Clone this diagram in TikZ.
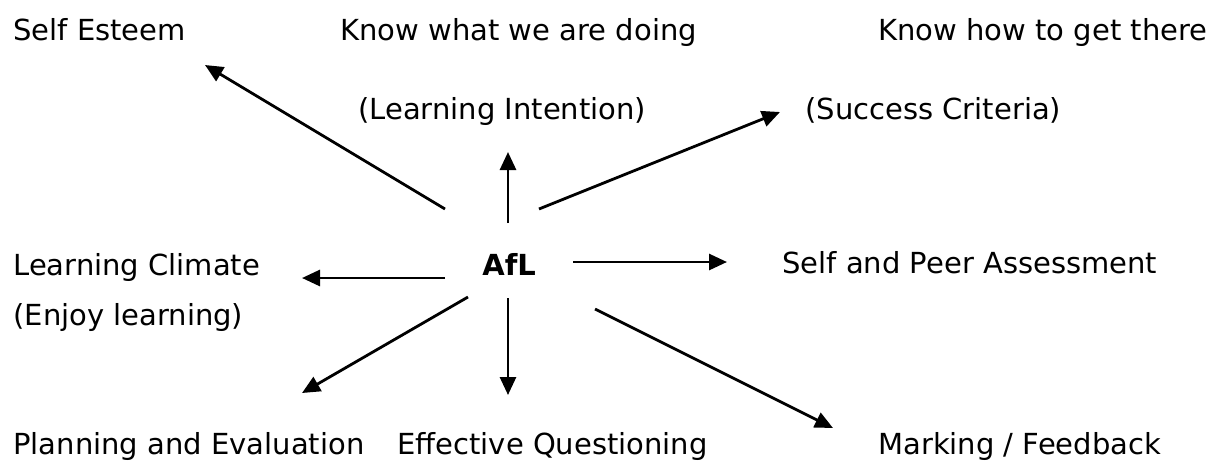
\documentclass[tikz,border=0pt]{standalone}
\usepackage{fontspec}
\setmainfont{DejaVu Sans}
\usetikzlibrary{arrows.meta, positioning}

\begin{document}
\begin{tikzpicture}[
    x=0.5pt, y=-0.5pt,
    font=\fontsize{14.5pt}{17pt}\selectfont,
    item/.style={anchor=base west, inner sep=0pt},
    hub/.style={item, font=\fontsize{14.5pt}{17pt}\selectfont\bfseries},
    arrow/.style={-{Triangle[length=9pt, width=8pt]}, line width=1.4pt, black}
]
    \useasboundingbox (0,0) rectangle (1222,463);

    % Centre
    \node[hub] (afl) at (482,275) {AfL};

    % Labels
    \node[item] (esteem) at (13,40) {Self Esteem};
    \node[item] (knowwhat) at (340,40) {Know what we are doing};
    \node[item] (knowhow) at (878,40) {Know how to get there};
    \node[item] (intention) at (358,119) {(Learning Intention)};
    \node[item] (criteria) at (805,119) {(Success Criteria)};
    \node[item] (climate) at (13,275) {Learning Climate};
    \node[item] (enjoy) at (13,325) {(Enjoy learning)};
    \node[item] (peer) at (782,273) {Self and Peer Assessment};
    \node[item] (planning) at (13,454) {Planning and Evaluation};
    \node[item] (questioning) at (397,454) {Effective Questioning};
    \node[item] (marking) at (878,454) {Marking / Feedback};

    % Arrow ends
    \coordinate (s1) at (445,209); \coordinate (t1) at (205,65);
    \coordinate (s2) at (508,223); \coordinate (t2) at (508,152);
    \coordinate (s3) at (539,209); \coordinate (t3) at (780,112);
    \coordinate (s4) at (445,278); \coordinate (t4) at (302,278);
    \coordinate (s5) at (573,262); \coordinate (t5) at (727,262);
    \coordinate (s6) at (468,297); \coordinate (t6) at (302,393);
    \coordinate (s7) at (508,298); \coordinate (t7) at (508,395);
    \coordinate (s8) at (595,309); \coordinate (t8) at (833,428);

    % Arrows
    \draw[arrow] (s1) -- (t1);
    \draw[arrow] (s2) -- (t2);
    \draw[arrow] (s3) -- (t3);
    \draw[arrow] (s4) -- (t4);
    \draw[arrow] (s5) -- (t5);
    \draw[arrow] (s6) -- (t6);
    \draw[arrow] (s7) -- (t7);
    \draw[arrow] (s8) -- (t8);

\end{tikzpicture}
\end{document}
